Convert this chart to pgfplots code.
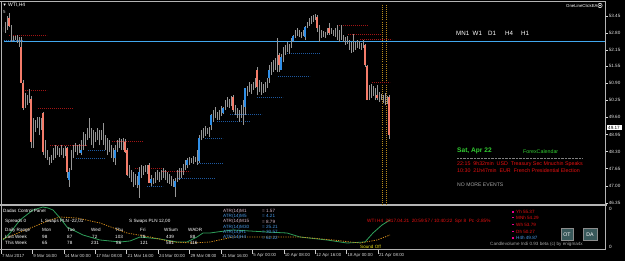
\documentclass[border=0pt]{standalone}
\usepackage{pgfplots}
\pgfplotsset{compat=1.18}
\usepackage{pgfplotstable}
\usepackage{fontspec}
\setmainfont{Liberation Sans}
\newcommand\fs[1]{\fontsize{#1}{#1}\selectfont}
\definecolor{wick}{HTML}{969696}
\definecolor{salm}{HTML}{F47C6A}
\definecolor{bbody}{HTML}{2F8FE8}
\definecolor{rdot}{HTML}{A01414}
\definecolor{bdot}{HTML}{1C58A0}
\definecolor{frame}{HTML}{B4B4B4}
\definecolor{hline}{HTML}{42A8EE}
\definecolor{vdot}{HTML}{B88A1C}
\definecolor{osc}{HTML}{2E9E5A}
\definecolor{oscd}{HTML}{D08A1A}
\definecolor{calgreen}{HTML}{32CD32}
\definecolor{calred}{HTML}{E81010}
\definecolor{atrp}{HTML}{D8B8C8}
\definecolor{atrb}{HTML}{4A9AE8}
\definecolor{btn}{HTML}{38585A}

\pgfplotstableread{
x l h
3 52.84 53.03
5 52.80 53.22
7 52.92 53.45
9 53.03 53.56
11 52.46 53.11
13 52.50 52.69
15 52.54 52.69
17 52.43 52.73
19 52.27 52.65
21 50.91 52.65
23 49.88 51.02
25 49.96 50.53
27 50.07 50.45
29 50.15 50.68
31 48.44 50.41
33 48.44 49.58
35 49.05 49.50
37 49.20 49.62
39 48.93 49.62
41 49.12 49.58
43 48.17 49.81
45 48.06 48.74
47 47.98 48.36
49 47.79 48.10
51 47.87 48.17
53 47.98 48.44
55 48.06 48.55
57 48.17 48.51
59 48.10 48.44
61 48.17 48.55
63 48.06 48.44
65 48.14 48.51
67 47.30 48.48
69 46.96 47.68
71 47.60 48.36
73 48.06 48.55
75 48.29 48.63
77 48.17 48.55
79 48.25 48.59
81 48.17 48.74
83 48.36 49.05
85 48.51 48.97
87 48.74 49.20
89 48.82 49.58
91 48.55 49.20
93 48.44 49.12
95 48.67 49.05
97 48.74 49.20
99 48.55 49.12
101 48.74 49.12
103 48.55 49.39
105 48.36 48.93
107 48.17 48.82
109 48.29 48.74
111 48.06 48.55
113 47.91 48.44
115 47.79 48.55
117 48.29 48.74
119 48.44 48.82
121 48.36 48.78
123 48.36 48.82
125 48.25 48.78
127 47.38 48.44
129 47.30 47.79
131 47.15 47.60
133 46.96 47.53
135 47.03 47.45
137 46.92 47.38
139 46.54 47.72
141 47.30 47.79
143 47.41 47.76
145 47.53 47.79
147 47.45 47.79
149 47.11 47.87
151 47.00 47.41
153 47.07 47.30
155 47.11 47.53
157 47.22 47.60
159 47.15 47.53
161 47.22 47.60
163 47.30 47.68
165 47.22 47.60
167 47.11 47.53
169 47.07 47.45
171 47.00 47.38
173 46.96 47.26
175 46.58 47.30
177 47.15 47.60
179 47.22 47.68
181 47.30 47.68
183 47.41 47.83
185 47.60 47.98
187 47.68 48.06
189 47.79 48.10
191 47.87 48.06
193 47.83 48.14
195 47.91 48.10
197 47.79 48.36
199 47.87 48.93
201 48.74 49.12
203 48.82 49.20
205 48.89 49.27
207 48.97 49.20
209 48.86 49.24
211 49.12 49.73
213 49.43 49.88
215 49.58 49.99
217 49.50 49.81
219 49.50 49.88
221 49.65 50.03
223 49.73 49.99
225 49.88 50.26
227 49.99 50.37
229 49.96 50.30
231 50.03 50.41
233 49.81 50.45
235 49.69 50.07
237 49.58 49.96
239 49.43 49.88
241 49.58 50.07
243 49.31 50.26
245 49.69 50.72
247 50.41 50.79
249 50.56 50.94
251 50.49 50.87
253 50.64 50.94
255 50.72 51.10
257 50.45 51.51
259 50.56 51.02
261 50.45 50.94
263 50.53 50.87
265 50.56 50.94
267 50.72 51.10
269 50.91 51.59
271 51.21 51.70
273 51.32 51.78
275 51.40 51.86
277 51.32 52.62
279 51.32 52.05
281 51.40 52.01
283 51.70 52.27
285 51.97 52.35
287 52.08 52.46
289 52.01 52.39
291 52.24 52.62
293 52.46 52.73
295 52.62 52.92
297 52.69 52.99
299 52.65 52.92
301 52.62 52.84
303 52.69 52.92
305 52.54 53.07
307 52.99 53.22
309 53.07 53.37
311 53.15 53.45
313 53.22 53.49
315 53.30 53.53
317 52.84 53.49
319 52.46 53.11
321 52.62 52.92
323 52.65 52.88
325 52.62 52.84
327 52.73 52.99
329 52.73 53.18
331 52.77 52.99
333 52.69 52.92
335 52.65 52.99
337 52.54 53.11
339 52.46 52.92
341 52.54 53.11
343 52.46 52.73
345 52.35 52.65
347 52.39 52.69
349 52.16 52.54
351 52.05 52.46
353 52.08 52.77
355 52.16 52.46
357 52.24 52.54
359 52.20 52.50
361 52.16 52.43
363 52.24 52.54
365 51.51 52.39
367 50.26 51.59
369 50.26 50.83
371 50.34 50.87
373 50.41 50.79
375 50.26 50.72
377 50.26 50.83
379 50.18 50.56
381 50.26 50.49
383 50.15 50.45
385 50.07 50.53
387 50.11 50.41
389 48.78 50.45
}\candles

\pgfplotstableread{
x b t
9 53.07 53.37
21 50.91 52.27
23 49.96 50.91
31 48.67 50.30
43 48.29 49.77
67 47.53 48.44
125 48.29 48.67
127 47.41 48.36
149 47.11 47.79
233 49.88 50.37
257 50.75 51.40
279 51.59 51.97
317 52.99 53.41
329 52.80 52.99
365 51.59 52.35
367 50.26 51.55
377 50.34 50.45
389 48.93 50.37
}\redbodies

\pgfplotstableread{
x b t
69 47.22 47.53
81 48.25 48.36
115 48.06 48.36
139 47.03 47.53
151 47.11 47.26
175 46.96 47.19
187 47.79 47.98
199 47.95 48.82
211 49.31 49.69
223 49.77 49.96
245 49.99 50.72
269 51.10 51.40
281 51.40 51.89
293 52.50 52.69
305 52.65 53.03
}\bluebodies

\begin{document}
\begin{tikzpicture}
\fill[black] (0,0) rectangle (625pt,261pt);
% ---------- lower window (pixel frame) ----------
\begin{axis}[at={(0,0)}, anchor=south west, scale only axis,
  width=625pt, height=261pt, xmin=0, xmax=625, ymin=0, ymax=261,
  y dir=reverse, axis lines=none, clip=false]
\addplot[osc, line width=0.8pt] coordinates {
(3,240) (10,233) (20,220) (33,210) (43,207) (48,208) (53,210) (60,218) (67,227)
(83,235) (100,240) (120,242) (130,241) (140,237) (150,238) (160,239) (177,242)
(187,242) (197,237) (203,233) (210,233) (217,232) (233,230) (250,231) (267,232)
(287,233) (300,237) (327,240) (347,243) (365,242) (373,233) (382,225) (390,220)};
\addplot[oscd, line width=0.8pt, dash pattern=on 1.2pt off 1.2pt] coordinates {
(3,239) (33,227) (50,220) (60,217) (77,218) (100,223) (127,233) (150,237)
(173,242) (193,243) (210,242) (233,237) (267,237) (300,237) (333,240) (360,243)
(377,240) (390,235)};
\end{axis}
% ---------- frame and texts, in pixel units (y downwards) ----------
\begin{scope}[x=1pt, y=1pt, shift={(0,261pt)}, yscale=-1]
\draw[frame, line width=1pt] (0,1.5) -- (605,1.5);
\draw[frame, line width=1pt] (1.5,1.5) -- (1.5,250);
\draw[frame, line width=1pt] (605,1.5) -- (605,250);
\draw[frame, line width=2pt] (0,205.5) -- (607,205.5);
\draw[frame, line width=1pt] (0,250) -- (605,250);
\foreach \xx/\lab in {1/7 Mar 2017, 32.4/9 Mar 16:00, 63.8/14 Mar 00:00, 95.3/17 Mar 08:00,
  126.7/21 Mar 16:00, 158.1/24 Mar 00:00, 189.5/29 Mar 08:00, 221/31 Mar 16:00,
  252.4/5 Apr 00:00, 283.8/10 Apr 08:00, 315.2/12 Apr 16:00, 346.6/18 Apr 00:00, 378/21 Apr 08:00}{
  \draw[white!80!black, line width=0.6pt] (\xx,250) -- (\xx,254);
  \node[anchor=west, inner sep=0pt, text=white!85!black, font=\fs{4.4}] at (\xx+0.8,255.5) {\lab};
}
\node[anchor=west, inner sep=0pt, text=white, font=\fs{4.2}] at (2.5,5.3) {▼};
\node[anchor=west, inner sep=0pt, text=white, font=\fs{5}] at (8,5.3) {WTI,H4};
\node[anchor=west, inner sep=0pt, text=white!85!black, font=\fs{4.4}] at (3,11.8) {5};
\node[anchor=west, inner sep=0pt, text=white, font=\fs{4.3}] at (566,5.5) {OneLineClickEA};
\draw[white, line width=0.5pt] (600,5.5) circle[radius=2.2pt];
\fill[white] (600,5.5) circle[radius=0.8pt];
\foreach \xx/\lab in {456/MN1, 472.5/W1, 488/D1, 505/H4, 521/H1}{
  \node[anchor=west, inner sep=0pt, text=white, font=\fs{6.2}] at (\xx,33) {\lab};
}
\node[anchor=west, inner sep=0pt, text=calgreen, font=\fs{6.6}\bfseries] at (457,151) {Sat, Apr 22};
\node[anchor=west, inner sep=0pt, text=calgreen, font=\fs{5.3}] at (523,152) {ForexCalendar};
\draw[gray, line width=0.6pt, dash pattern=on 0.6pt off 0.8pt] (457,158) -- (582,158);
\node[anchor=west, inner sep=0pt, text=calred, font=\fs{5.3}] at (457,164.5) {22:15\ \ 9h32min\ \ USD\ \ Treasury Sec Mnuchin Speaks};
\node[anchor=west, inner sep=0pt, text=calred, font=\fs{5.3}] at (457,171) {10:30\ \ 21h47min\ \ EUR\ \ French Presidential Election};
\node[anchor=west, inner sep=0pt, text=white!65!black, font=\fs{5.1}] at (457,184.5) {NO MORE EVENTS};
\node[fill=white, text=black, inner sep=0.4pt, minimum width=15pt, font=\fs{4.6}] at (614,127.5) {49.17};
\node[anchor=west, inner sep=0pt, text=white, font=\fs{4.6}] at (609,209) {0};
\node[anchor=west, inner sep=0pt, text=white, font=\fs{4.6}] at (609,247) {0};
\node[anchor=west, inner sep=0pt, text=white, font=\fs{4.6}] at (3,210.5) {Dadas Control Panel};
\node[anchor=west, inner sep=0pt, text=white, font=\fs{4.6}] at (5,221) {Spreads 0};
\node[anchor=west, inner sep=0pt, text=white, font=\fs{4.6}] at (41,221) {L Swaps PLN -22,01};
\node[anchor=west, inner sep=0pt, text=white, font=\fs{4.6}] at (129,221) {S Swaps PLN 12,00};
\foreach \xx/\lab in {5/Daily Range, 42/Mon, 67/Tue, 91/Wed, 115/Thu, 140/Fri, 164/WSum, 188/WADR}{
  \node[anchor=west, inner sep=0pt, text=white, font=\fs{4.6}] at (\xx,230) {\lab};}
\foreach \xx/\lab in {5/Last Week, 42/98, 67/87, 92/72, 115/103, 140/79, 166/439, 190/88}{
  \node[anchor=west, inner sep=0pt, text=white, font=\fs{4.6}] at (\xx,236.5) {\lab};}
\foreach \xx/\lab in {5/This Week, 42/65, 67/78, 91/231, 116/86, 140/121, 166/581, 190/116}{
  \node[anchor=west, inner sep=0pt, text=white, font=\fs{4.6}] at (\xx,242.5) {\lab};}
\foreach \yy/\lab/\val/\col in {211/M1/1.57/atrp, 216.3/M5/4.21/atrb, 221.6/M15/8.79/atrp,
   226.9/M30/25.21/atrb, 232.2/H1/30.57/atrb, 237.5/H4/62.22/atrb}{
  \node[anchor=west, inner sep=0pt, text=\col, font=\fs{4.6}] at (223,\yy) {ATR(14)\lab};
  \node[anchor=west, inner sep=0pt, text=\col, font=\fs{4.6}] at (262,\yy) {= \val};}
\node[anchor=west, inner sep=0pt, text=calred, font=\fs{4.7}] at (367,221) {WTI H4\ \ 2017.04.21\ \ 20:59:57 / 10:40:22\ \ Spr 8\ \ Pc -2.85\%};
\foreach \yy/\lab/\col in {212/Yh 55.37/calred, 217.5/MNh 54.29/calred, 224.5/Wh 53.79/calred, 231.5/Dh 50.27/calred, 238/H4h 49.87/atrb}{
  \fill[magenta] (512.2,\yy-0.8) rectangle (513.8,\yy+0.8);
  \node[anchor=west, inner sep=0pt, text=\col, font=\fs{4.6}] at (516,\yy) {\lab};}
\node[draw=white!55!black, fill=btn, text=white, font=\fs{5.2}, minimum width=12.5pt, minimum height=12pt, inner sep=0pt] at (567,234.5) {OT};
\node[draw=white!55!black, fill=btn, text=white, font=\fs{5.2}, minimum width=13.5pt, minimum height=12pt, inner sep=0pt] at (590,234.5) {DA};
\node[anchor=west, inner sep=0pt, text=white!65!black, font=\fs{4.6}] at (490,244.3) {Candlevolume Indi 0.93 beta (c) by enigma4x};
\node[anchor=west, inner sep=0pt, text=yellow!90!black, font=\fs{4.6}] at (360,247) {Sound Off};
\end{scope}
% ---------- price chart ----------
\begin{axis}[at={(4pt,56pt)}, anchor=south west, scale only axis,
  width=601pt, height=201pt, xmin=4, xmax=605, ymin=46.274, ymax=53.906,
  axis x line=none, axis y line*=right,
  y axis line style={draw=frame, line width=1pt},
  ytick={53.45,52.80,52.15,51.55,50.90,50.25,49.60,48.95,48.30,47.65,47.00,46.35},
  tick align=outside, major tick length=3pt,
  ytick style={draw=white!85!black, line width=0.6pt},
  /pgf/number format/assume math mode=true,
  yticklabel style={/pgf/number format/fixed, /pgf/number format/fixed zerofill,
     /pgf/number format/precision=2, font=\fs{4.6}, text=white!90!black,
     anchor=west, inner sep=0.6pt}]
\addplot[hline, line width=1pt] coordinates {(4,52.49) (605,52.49)};
\addplot[vdot, line width=0.6pt, dash pattern=on 0.7pt off 1.4pt] coordinates {(382,46.274) (382,53.906)};
\addplot[vdot, line width=0.6pt, dash pattern=on 0.7pt off 1.4pt] coordinates {(386,46.274) (386,53.906)};
\foreach \a/\b/\p in {9/47/52.73, 25/47/50.64, 38/73/49.96, 50/87/48.55, 112/143/48.70,
   135/163/47.68, 162/190/47.57, 337/368/53.11, 348/382/52.77, 360/392/52.58, 372/390/50.94}{
  \edef\tmp{\noexpand\addplot[rdot, line width=0.6pt, dash pattern=on 0.8pt off 1.2pt] coordinates {(\a,\p) (\b,\p)};}\tmp}
\foreach \a/\b/\p in {2/24/52.54, 88/105/48.36, 76/105/48.06, 147/163/47.00, 178/215/47.30,
   198/223/47.87, 205/223/48.82, 217/250/49.46, 230/262/49.73, 257/283/50.37, 278/310/51.17, 285/320/52.05}{
  \edef\tmp{\noexpand\addplot[bdot, line width=0.6pt, dash pattern=on 0.8pt off 1.2pt] coordinates {(\a,\p) (\b,\p)};}\tmp}
\addplot[draw=none, mark=none, error bars/.cd, y dir=plus, y explicit, error mark=none,
  error bar style={draw=wick, line width=0.9pt, solid}]
  table[x=x, y=l, y error expr=\thisrow{h}-\thisrow{l}] {\candles};
\addplot[draw=none, mark=none, error bars/.cd, y dir=plus, y explicit, error mark=none,
  error bar style={draw=salm, line width=2.2pt, solid}]
  table[x=x, y=b, y error expr=\thisrow{t}-\thisrow{b}] {\redbodies};
\addplot[draw=none, mark=none, error bars/.cd, y dir=plus, y explicit, error mark=none,
  error bar style={draw=bbody, line width=2.2pt, solid}]
  table[x=x, y=b, y error expr=\thisrow{t}-\thisrow{b}] {\bluebodies};
\end{axis}
\pgfresetboundingbox
\path[use as bounding box] (0,0) rectangle (625pt,261pt);
\end{tikzpicture}
\end{document}
